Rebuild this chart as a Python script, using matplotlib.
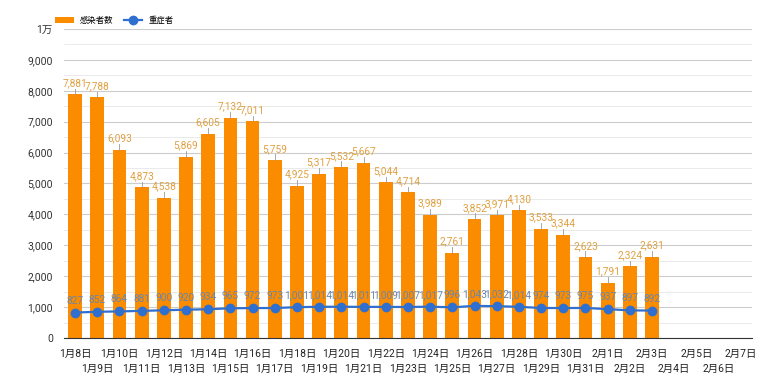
import matplotlib
matplotlib.use("Agg")
import matplotlib.pyplot as plt
import numpy as np

plt.rcParams['font.family'] = ['Roboto', 'Noto Sans CJK JP', 'DejaVu Sans']

dates = ['1月8日', '1月9日', '1月10日', '1月11日', '1月12日', '1月13日', '1月14日',
         '1月15日', '1月16日', '1月17日', '1月18日', '1月19日', '1月20日', '1月21日',
         '1月22日', '1月23日', '1月24日', '1月25日', '1月26日', '1月27日', '1月28日',
         '1月29日', '1月30日', '1月31日', '2月1日', '2月2日', '2月3日', '2月4日',
         '2月5日', '2月6日', '2月7日']
infected = [7881, 7788, 6093, 4873, 4538, 5869, 6605, 7132, 7011, 5759, 4925, 5317,
            5532, 5667, 5044, 4714, 3989, 2761, 3852, 3971, 4130, 3533, 3344, 2623,
            1791, 2324, 2631]
severe = [827, 852, 864, 881, 900, 920, 934, 965, 972, 973, 1001, 1014, 1014, 1011,
          1009, 1007, 1017, 996, 1043, 1032, 1014, 974, 973, 975, 937, 897, 892]
yticks = [0, 1000, 2000, 3000, 4000, 5000, 6000, 7000, 8000, 9000, 10000]
ylabels = ['0', '1,000', '2,000', '3,000', '4,000', '5,000', '6,000', '7,000',
           '8,000', '9,000', '1万']

bar_color = '#fb8c00'
line_color = '#2f6fd0'

fig = plt.figure(figsize=(7.8, 3.9), dpi=100)
ax = fig.add_axes([0.082, 0.133, 0.882, 0.793])

x = np.arange(len(infected))
bars = ax.bar(x, infected, width=0.62, color=bar_color, zorder=2, label='感染者数')
line, = ax.plot(x, severe, color=line_color, lw=1.6, marker='o', ms=6, zorder=3,
                label='重症者')

for i, v in enumerate(infected):
    ax.plot([i, i], [v, v + 180], color='#999999', lw=0.6, zorder=2)
    ax.text(i, v + 200, f'{v:,}', ha='center', va='bottom', fontsize=7.3,
            color='#e0a040', zorder=4)
for i, v in enumerate(severe):
    ax.annotate(f'{v:,}', (i, v), xytext=(0, 5), textcoords='offset points',
                ha='center', va='bottom', fontsize=7.3, color='#6a86aa', zorder=4)

ax.set_xlim(-0.5, len(dates) - 0.5)
ax.set_ylim(0, 10000)
ax.set_yticks(yticks)
ax.set_yticklabels(ylabels, fontsize=7.5, color='#333333')
ax.set_yticks(np.arange(500, 10000, 1000), minor=True)
ax.grid(axis='y', which='major', color='#cccccc', lw=0.8, zorder=0)
ax.grid(axis='y', which='minor', color='#e6e6e6', lw=0.6, zorder=0)
ax.tick_params(axis='y', which='both', length=0, pad=8)

ax.set_xticks(np.arange(len(dates)))
ax.set_xticklabels([])
ax.tick_params(axis='x', length=0)
for i, d in enumerate(dates):
    y = -0.035 if i % 2 == 0 else -0.085
    ax.text(i, y, d, transform=ax.get_xaxis_transform(), ha='center', va='top',
            fontsize=7.5, color='#222222')

for s in ['top', 'right', 'left']:
    ax.spines[s].set_visible(False)
ax.spines['bottom'].set_color('#333333')
ax.spines['bottom'].set_linewidth(0.8)

ax.legend([bars, line], ['感染者数', '重症者'], loc='lower left',
          bbox_to_anchor=(-0.02, 1.0), ncol=2, frameon=False,
          fontsize=6, handlelength=2.2, columnspacing=1.2, borderaxespad=0.2)

fig.savefig('out.png', dpi=100)
